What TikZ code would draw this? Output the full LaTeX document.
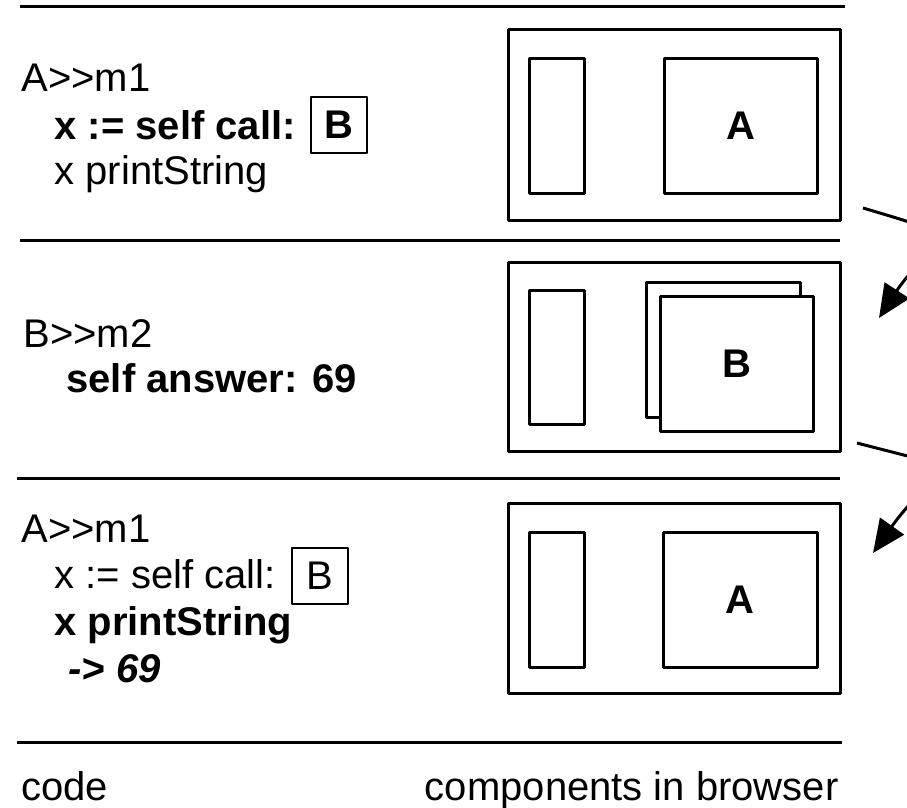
\documentclass[tikz,border=0pt]{standalone}
\usepackage{fontspec}
\setmainfont{Liberation Sans}
\usetikzlibrary{arrows.meta}
\begin{document}
\begin{tikzpicture}[x=1pt,y=-1pt,line width=3pt,line join=round,
  txt/.style={anchor=base west,inner sep=0pt,font=\fontsize{40}{48}\selectfont},
  txtr/.style={anchor=base east,inner sep=0pt,font=\fontsize{40}{48}\selectfont},
  rbox/.style={draw,fill=white,inner sep=0pt,font=\fontsize{40}{48}\selectfont\bfseries},
  bbox/.style={draw,inner sep=0pt,minimum width=56pt,minimum height=56pt,line width=2pt,font=\fontsize{40}{48}\selectfont},
  sep/.style={line width=3pt},
  flow/.style={line width=3pt,-{Triangle[length=33pt,width=29pt]}}]
\useasboundingbox (0,0) rectangle (907,808);
\clip (0,0) rectangle (907,808);
% separators
\coordinate (l1a) at (20,7);  \coordinate (l1b) at (845,7);
\coordinate (l2a) at (20,240); \coordinate (l2b) at (840,240);
\coordinate (l3a) at (17,478); \coordinate (l3b) at (840,478);
\coordinate (l4a) at (17,742); \coordinate (l4b) at (842,742);
\draw[sep] (l1a) -- (l1b);
\draw[sep] (l2a) -- (l2b);
\draw[sep] (l3a) -- (l3b);
\draw[sep] (l4a) -- (l4b);
% panel 1 code
\node[txt] (c1a) at (20,91) {A>{}>m1};
\node[txt,font=\fontsize{40}{48}\selectfont\bfseries] (c1b) at (53,139) {x := self call:};
\node[bbox,font=\fontsize{40}{48}\selectfont\bfseries] (c1box) at (339,125) {B};
\node[txt] (c1c) at (53,184) {x printString};
% panel 2 code
\node[txt] (c2a) at (22,347) {B>{}>m2};
\node[txt,font=\fontsize{40}{48}\selectfont\bfseries] (c2b) at (65,392) {self answer: 69};
% panel 3 code
\node[txt] (c3a) at (20,542) {A>{}>m1};
\node[txt] (c3b) at (53,588) {x := self call:};
\node[bbox] (c3box) at (319.5,575.5) {B};
\node[txt,font=\fontsize{40}{48}\selectfont\bfseries] (c3c) at (53,635) {x printString};
\node[txt,font=\fontsize{40}{48}\selectfont\bfseries\itshape] (c3d) at (67,682) {-{}> 69};
% bottom labels
\node[txt] (lcode) at (20,800) {code};
\node[txtr] (lcomp) at (840,800) {components in browser};
% panel 1 browser
\node[rbox,minimum width=332pt,minimum height=190pt] (p1) at (674,125) {};
\node[rbox,minimum width=55pt,minimum height=134pt] (p1l) at (556.5,126) {};
\node[rbox,minimum width=153pt,minimum height=134pt] (p1r) at (740.5,126) {A};
% panel 2 browser
\node[rbox,minimum width=332pt,minimum height=189pt] (p2) at (674,356.5) {};
\node[rbox,minimum width=55pt,minimum height=134pt] (p2l) at (556.5,357) {};
\node[rbox,minimum width=154pt,minimum height=135pt] (p2back) at (723,349.5) {};
\node[rbox,minimum width=153pt,minimum height=135pt] (p2r) at (736.5,363.5) {B};
% panel 3 browser
\node[rbox,minimum width=332pt,minimum height=190pt] (p3) at (674,598) {};
\node[rbox,minimum width=55pt,minimum height=135pt] (p3l) at (556.5,599.5) {};
\node[rbox,minimum width=154pt,minimum height=135pt] (p3r) at (740,599.5) {A};
% arrows (partly outside the picture)
\coordinate (a1s) at (863,208); \coordinate (a1e) at (879,318);
\coordinate (a2s) at (857,443); \coordinate (a2e) at (873,553);
\draw[flow] (a1s) .. controls (995,247) and (935,232) .. (a1e);
\draw[flow] (a2s) .. controls (987,477) and (941,457) .. (a2e);
\end{tikzpicture}
\end{document}
